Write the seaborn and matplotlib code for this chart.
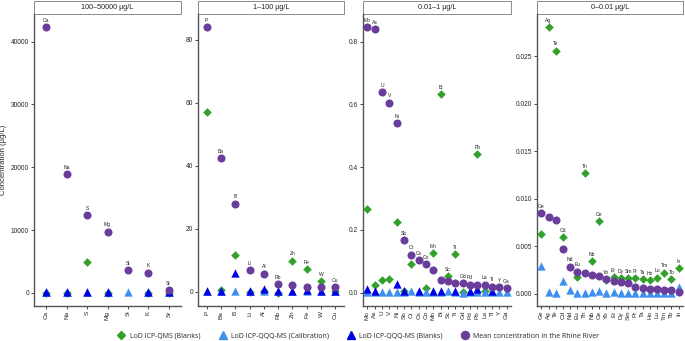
import pandas as pd
import seaborn as sns
import matplotlib.pyplot as plt
from matplotlib.patches import Rectangle
from matplotlib.lines import Line2D
from matplotlib.ticker import MultipleLocator

# panel titles
titles = ['100–50000 µg/L', '1–100 µg/L', '0.01–1 µg/L', '0–0.01 µg/L']

# elements per panel
el_1 = ['Ca', 'Na', 'S', 'Mg', 'Si', 'K', 'Sr']
el_2 = ['P', 'Ba', 'B', 'Li', 'Al', 'Rb', 'Zn', 'Fe', 'W', 'Cu']
el_3 = ['Mo', 'As', 'U', 'V', 'Ni', 'Sb', 'Cr', 'Cs', 'Co', 'Mn',
        'Bi', 'Sc', 'Ti', 'Gd', 'Pd', 'Pb', 'La', 'Tl', 'Y', 'Ga']
el_4 = ['Ge', 'Ag', 'Te', 'Cd', 'Nd', 'Eu', 'Th', 'Nb', 'Ce', 'Yb',
        'Er', 'Dy', 'Sm', 'Pr', 'Ta', 'Ho', 'Lu', 'Tm', 'Tb', 'In']

# mean concentration in the Rhine
mean_1 = [42300, 18850, 12350, 9750, 3600, 3180, 400]
mean_2 = [84.0, 42.4, 27.9, 6.8, 5.7, 2.4, 2.3, 1.6, 1.5, 1.4]
mean_3 = [0.846, 0.839, 0.639, 0.606, 0.540, 0.167, 0.121, 0.103, 0.090, 0.072,
          0.042, 0.036, 0.032, 0.031, 0.026, 0.024, 0.025, 0.019, 0.017, 0.015]
mean_4 = [0.00845, 0.0081, 0.00776, 0.00466, 0.00284, 0.00232, 0.0022, 0.0020, 0.00186, 0.00154,
          0.00133, 0.00126, 0.00109, 0.00074, 0.00056, 0.00053, 0.0005, 0.00039, 0.00039, 0.00021]

# LoD ICP-QMS (Blanks)
qms_1 = [30, 40, 4970, 30, None, 40, 10]
qms_2 = [57.1, 0.5, 11.6, 0.0, 0.4, -0.3, 9.9, 7.1, 3.3, 0.3]
qms_3 = [0.268, 0.024, 0.041, 0.044, 0.224, 0.007, 0.093, None, 0.016, 0.126,
         0.633, 0.052, 0.122, 0.002, None, 0.442, 0.004, None, None, None]
qms_4 = [0.00624, 0.02803, 0.02555, 0.00593, None, 0.00179, 0.01266, 0.0034, 0.0076, 0.0014,
         0.00175, 0.00165, 0.00165, 0.00161, 0.00154, 0.0014, 0.00168, 0.00221, 0.00154, 0.0027]

# LoD ICP-QQQ-MS (Calibration)
cal_1 = [120, 120, 120, 120, 150, 120, 120]
cal_2 = [0.1, 0.1, 0.1, 0.1, 0.1, 0.1, 0.1, 0.2, 0.1, 0.1]
cal_3 = [0.002, 0.002, 0.003, 0.003, 0.002, 0.002, 0.004, 0.002, 0.003, 0.002,
         0.002, 0.006, 0.002, 0.0, 0.002, 0.002, 0.002, 0.002, 0.002, 0.002]
cal_4 = [0.00287, 0.0002, 0.0001, 0.00137, 0.00035, 0.0001, 0.0001, 0.0002, 0.0003, 0.0001,
         0.0002, 0.0001, 0.0001, 0.0001, 0.0001, 0.0001, 0.0001, 0.0001, 0.0001, 0.0007]

# LoD ICP-QQQ-MS (Blanks)
blk_1 = [150, 150, 150, 150, None, 150, 150]
blk_2 = [0.2, 0.3, 6.0, 0.1, 0.8, 0.1, 0.3, 0.5, 0.2, 0.2]
blk_3 = [0.013, 0.006, None, None, 0.028, 0.004, None, 0.004, None, 0.006,
         0.006, None, 0.004, None, 0.004, 0.013, None, 0.004, None, None]
blk_4 = [None] * 20

series = ['LoD ICP-QMS (Blanks)', 'LoD ICP-QQQ-MS (Calibration)',
          'LoD ICP-QQQ-MS (Blanks)', 'Mean concentration in the Rhine River']
colors = ['#33a02c', '#3f8fef', '#0000e6', '#6a3d9a']
markers = ['D', '^', '^', 'o']
sizes = [4.4, 6.0, 6.0, 5.8]

panels = [
    (el_1, [qms_1, cal_1, blk_1, mean_1], 10000),
    (el_2, [qms_2, cal_2, blk_2, mean_2], 20),
    (el_3, [qms_3, cal_3, blk_3, mean_3], 0.2),
    (el_4, [qms_4, cal_4, blk_4, mean_4], 0.005),
]

rows = []
for p, (els, vals, _) in enumerate(panels):
    for s, v in zip(series, vals):
        for e, y in zip(els, v):
            if y is not None:
                rows.append((p, e, s, y))
df = pd.DataFrame(rows, columns=['panel', 'element', 'series', 'value'])

sns.set_style('ticks')
plt.rcParams['font.family'] = ['Liberation Sans', 'DejaVu Sans']

W, H = 685, 341
fig = plt.figure(figsize=(W / 100, H / 100), dpi=100)
lefts = [34, 198, 363, 537]
widths = [147, 146, 148, 146]
top_px, bot_px = 14, 306

for p, (els, vals, step) in enumerate(panels):
    ax = fig.add_axes([lefts[p] / W, (H - bot_px) / H, widths[p] / W, (bot_px - top_px) / H])
    sub = df[df.panel == p]
    for k, s in enumerate(series):
        d = sub[sub.series == s]
        sns.stripplot(data=d, x='element', y='value', order=els, jitter=False,
                      marker=markers[k], color=colors[k], size=sizes[k],
                      linewidth=0, ax=ax, zorder=3 + k)
    # element labels above the highest point
    top = sub.groupby('element')['value'].max()
    for i, e in enumerate(els):
        ax.annotate(e, (i, top[e]), xytext=(0, 3.2), textcoords='offset points',
                    ha='center', va='bottom', fontsize=3.6, color='#222222')
    ax.set_xlim(-0.6, len(els) - 0.4)
    ax.margins(y=0.05)
    ax.autoscale(axis='y')
    ax.yaxis.set_major_locator(MultipleLocator(step))
    ax.set_xlabel('')
    ax.set_ylabel('')
    ax.tick_params(axis='x', labelrotation=90, labelsize=4.6, length=2, width=0.6, pad=1.5)
    ax.tick_params(axis='y', labelsize=4.8, length=2, width=0.6, pad=1.5)
    sns.despine(ax=ax)
    for sp in ['left', 'bottom']:
        ax.spines[sp].set_color('#555555')
        ax.spines[sp].set_linewidth(1.0)
    hs = 13 / (bot_px - top_px)
    ax.add_patch(Rectangle((0, 1), 1, hs, transform=ax.transAxes, clip_on=False,
                           facecolor='white', edgecolor='#8a8a8a', linewidth=0.7))
    ax.text(0.5, 1 + hs / 2, titles[p], transform=ax.transAxes, ha='center',
            va='center', fontsize=5.2, color='#222222')

fig.text(3.5 / W, (H - 160) / H, 'Concentration (µg/L)', rotation=90,
         ha='center', va='center', fontsize=5.5)

handles = [Line2D([], [], linestyle='', marker=m, color=c, markersize=z)
           for m, c, z in zip(markers, colors, sizes)]
fig.legend(handles, series, loc='center', bbox_to_anchor=(357 / W, (H - 336) / H),
           ncol=4, frameon=False, handletextpad=0.2, columnspacing=2.2,
           prop={'family': 'Open Sans', 'size': 5})

fig.savefig('out.png', dpi=100)
